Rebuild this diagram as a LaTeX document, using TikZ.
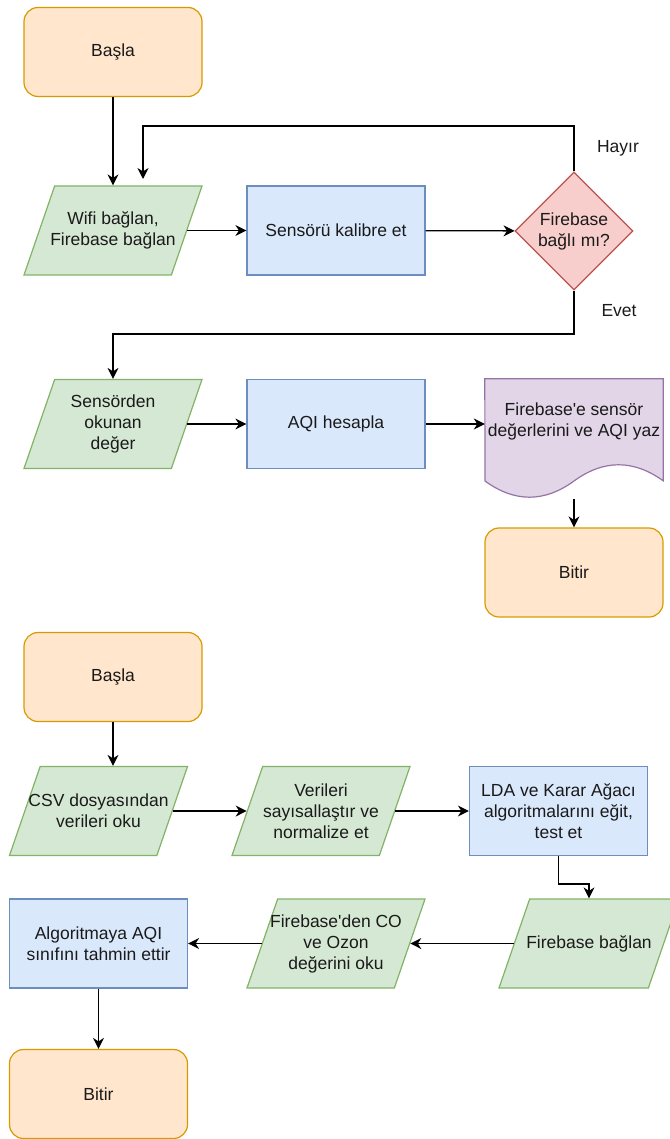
\documentclass[tikz,border=0pt]{standalone}
\usepackage{fontspec}
\setmainfont{Liberation Sans}[Ligatures=TeXOff]
\usetikzlibrary{shapes.geometric,arrows.meta}
\definecolor{orfill}{HTML}{FFE6CC}\definecolor{ordraw}{HTML}{D79B00}
\definecolor{grfill}{HTML}{D5E8D4}\definecolor{grdraw}{HTML}{82B366}
\definecolor{blfill}{HTML}{DAE8FC}\definecolor{bldraw}{HTML}{6C8EBF}
\definecolor{rdfill}{HTML}{F8CECC}\definecolor{rddraw}{HTML}{B85450}
\definecolor{pufill}{HTML}{E1D5E7}\definecolor{pudraw}{HTML}{9673A6}
\definecolor{txtcol}{HTML}{1A1A1A}
\newcommand{\parastrut}{\rule[-44.5pt]{0pt}{89pt}}
\begin{document}
\begin{tikzpicture}[x=1pt,y=-1pt,
  every node/.style={font=\fontsize{17.5}{21}\selectfont, text=txtcol},
  txt/.style={align=center, inner sep=0pt},
  term/.style={draw=ordraw, fill=orfill, line width=1.2pt, rounded corners=14pt,
    minimum width=178pt, minimum height=89pt, align=center, inner sep=0pt},
  proc/.style={draw=bldraw, fill=blfill, line width=1.2pt,
    minimum width=178pt, minimum height=89pt, align=center, inner sep=0pt},
  para/.style={draw=grdraw, fill=grfill, line width=1.2pt, shape=trapezium,
    trapezium left angle=71, trapezium right angle=109, trapezium stretches body,
    minimum width=178pt, inner sep=0pt},
  dec/.style={draw=rddraw, fill=rdfill, line width=1.2pt, diamond,
    minimum width=118pt, minimum height=118pt, inner sep=0pt, align=center},
  arr/.style={line width=1.3pt, -{Stealth[length=11pt,width=11pt,inset=3.5pt]}},
  lbl/.style={inner sep=0pt}
]
\useasboundingbox (0,0) rectangle (669,1139);

% ---------- first flowchart ----------
\node[term] (start1) at (113,52) {Başla};
\node[para, label={[txt]center:Wifi bağlan,\\Firebase bağlan}] (wifi) at (113,230.5) {\parastrut};
\node[proc] (calib) at (336,230.5) {Sensörü kalibre et};
\node[dec] (fbq) at (574,231) {Firebase\\bağlı mı?};
\node[para, label={[txt]center:Sensörden\\okunan\\değer}] (read) at (113,424) {\parastrut};
\node[proc] (aqi) at (336,424) {AQI hesapla};
\node[minimum width=178pt, minimum height=120pt, inner sep=0pt] (doc) at (574,439) {};
\filldraw[fill=pufill, draw=pudraw, line width=1.2pt]
  (doc.north west) -- (doc.north east) -- ++(0,102)
  .. controls (633.33,459.4) and (603.67,459.4) .. (574,481)
  .. controls (544.33,502.6) and (514.67,502.6) .. (485,481) -- cycle;
\node[txt] (doctext) at (574,421.5) {Firebase'e sensör\\değerlerini ve AQI yaz};
\node[term] (end1) at (574,572.5) {Bitir};

\node[lbl] (hayir) at (618,148) {Hayır};
\node[lbl] (evet) at (619,311) {Evet};

\coordinate (loopend) at (143,179);
\draw[arr] (start1) -- (wifi);
\draw[arr] (wifi) -- (calib);
\draw[arr] (calib) -- (fbq);
\draw[arr] (fbq.north) -- (fbq.north |- 0,126) -| (loopend);
\draw[arr] (fbq.south) -- (fbq.south |- 0,334) -| (read.north);
\draw[arr] (read) -- (aqi);
\draw[arr] (aqi.east) -- (aqi.east -| doc.west);
\draw[arr] (doc.south) -- (end1.north);

% ---------- second flowchart ----------
\node[term] (start2) at (113,677) {Başla};
\node[para, label={[txt]center:CSV dosyasından\\verileri oku}] (csv) at (98.5,811) {\parastrut};
\node[para, label={[txt]center:Verileri\\sayısallaştır ve\\normalize et}] (norm) at (321,811) {\parastrut};
\node[proc] (lda) at (558.5,811) {LDA ve Karar Ağacı\\algoritmalarını eğit,\\test et};
\node[para, minimum width=180pt, label={[txt]center:Firebase bağlan}] (fbb) at (589,943.5) {\parastrut};
\node[para, label={[txt]center:Firebase'den CO\\ve Ozon\\değerini oku}] (fbr) at (336,943.5) {\parastrut};
\node[proc] (alg) at (98.5,943.5) {Algoritmaya AQI\\sınıfını tahmin ettir};
\node[term] (end2) at (98.5,1094) {Bitir};

\draw[arr] (start2.south) -- (start2.south |- csv.north);
\draw[arr] (csv) -- (norm);
\draw[arr] (norm) -- (lda);
\draw[arr] (lda.south) -- (lda.south |- 0,884) -| (fbb.north);
\draw[arr] (fbb) -- (fbr);
\draw[arr] (fbr) -- (alg);
\draw[arr] (alg) -- (end2);
\end{tikzpicture}
\end{document}
